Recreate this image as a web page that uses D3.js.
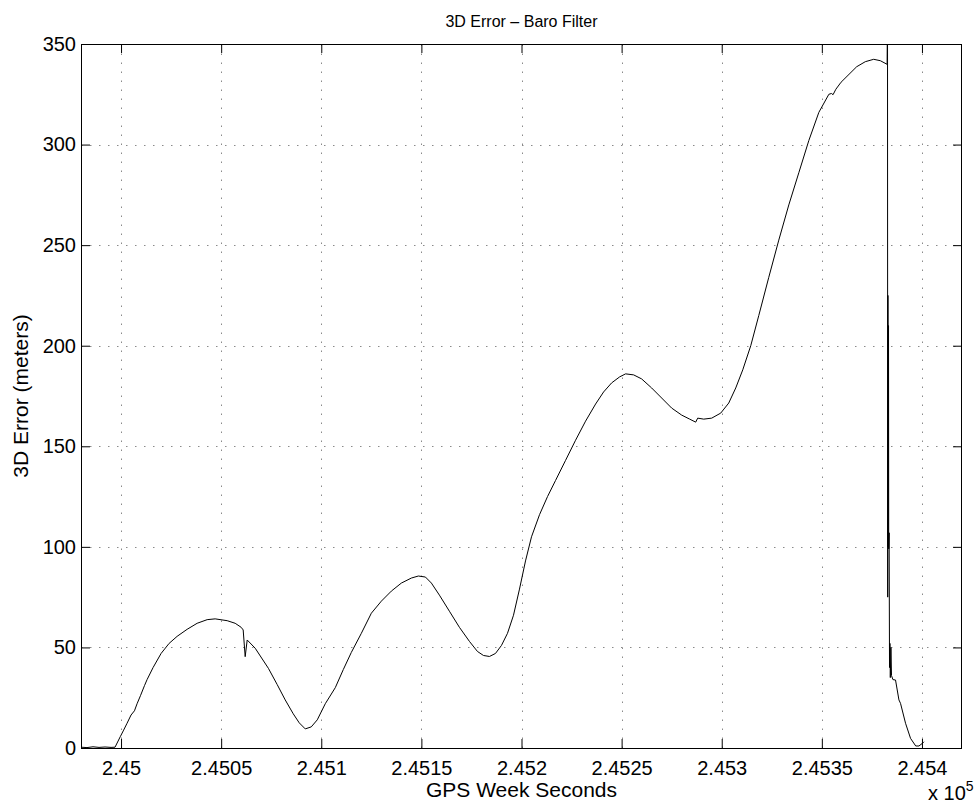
<!DOCTYPE html>
<html>
<head>
<meta charset="utf-8">
<script src="https://cdn.jsdelivr.net/npm/d3@7"></script>
<style>
  html, body { margin: 0; padding: 0; background: #fff; }
  svg { display: block; font-family: "Liberation Sans", Arial, Helvetica, sans-serif; }
</style>
</head>
<body>
<svg id="chart" width="976" height="808"></svg>
<script>
// GPS week seconds (time) and 3D position error in metres
const timeSec = [
  244980, 244983, 244986, 244989, 244992, 244995, 244997, 244999.6, 245001.3, 245003,
  245005, 245006.7, 245008, 245009.7, 245011.7, 245013, 245016, 245020, 245024, 245028,
  245033, 245038, 245043, 245047, 245053, 245057, 245060, 245061, 245062, 245063,
  245067, 245073.6, 245078, 245082, 245086, 245089, 245092, 245095, 245098, 245102,
  245107, 245111, 245115, 245120, 245125, 245130, 245135, 245140, 245145, 245148.5,
  245152, 245155, 245159, 245164, 245169, 245174, 245178, 245181, 245184, 245187,
  245190, 245193, 245196, 245199, 245202, 245205, 245209, 245213, 245217, 245222,
  245227, 245232, 245237, 245241, 245245, 245249, 245252, 245256, 245260, 245265,
  245270, 245275, 245280, 245284, 245287, 245288, 245291, 245295, 245299.5, 245303.5,
  245307, 245310.5, 245314.5, 245318.5, 245323.5, 245328.5, 245333.5, 245338.5, 245343.5, 245348.5,
  245353.5, 245354.8, 245355.6, 245357, 245359.6, 245367.4, 245371.7, 245375.9, 245379.2, 245382.6,
  245382.8, 245382.9, 245383.0, 245383.1, 245383.3, 245383.4, 245383.6, 245383.8, 245384.0, 245384.2,
  245384.5, 245384.8, 245385.5, 245386.8, 245388.5, 245389.3, 245391.8, 245394.3, 245396.9, 245398.5,
  245400.2, 245401
];
const errorM = [
  0.4, 0.2, 0.6, 0.3, 0.5, 0.3, 0.4, 5.6, 8.9, 12.3,
  16.4, 18.5, 22, 26, 31, 34, 40, 47, 52, 55.5,
  59, 62, 63.8, 64.2, 63.3, 62, 60, 58.7, 45.4, 53.7,
  49.6, 39.6, 31.5, 23.9, 17, 12.5, 9.5, 10.5, 14, 22,
  30, 39, 47.5, 57, 67, 73, 78, 82, 84.5, 85.5,
  85, 82, 76, 68, 60, 53, 48, 46, 45.5, 47,
  51, 57, 66, 79, 93, 105, 116, 125, 133, 143,
  153, 162.5, 171, 177, 181.5, 184.5, 186, 185.5, 183.5, 179,
  174, 169, 165.5, 163.5, 162, 164, 163.5, 164, 166.5, 171.5,
  179, 188, 200, 215, 234, 252.5, 270, 286, 302, 316,
  325, 325.4, 324.8, 327.5, 331, 338.7, 341.2, 342.4, 341.7, 339.9,
  370, 75, 225, 100, 210, 99, 107, 40, 52, 35,
  50, 36, 34, 33.8, 23.9, 22.2, 12.3, 4.8, 1, 1,
  2.3, 3.1
];

const xTicks = [245000, 245050, 245100, 245150, 245200, 245250, 245300, 245350, 245400];
const xTickLabels = ["2.45", "2.4505", "2.451", "2.4515", "2.452", "2.4525", "2.453", "2.4535", "2.454"];
const yTicks = [0, 50, 100, 150, 200, 250, 300, 350];

const titleText = "3D Error \u2013 Baro Filter";
const xLabelText = "GPS Week Seconds";
const yLabelText = "3D Error (meters)";

const svg = d3.select("#chart");
const W = 976, H = 808;
const m = { left: 81, right: 14, top: 44, bottom: 60 };
const x0 = m.left, x1 = W - m.right, y0 = m.top, y1 = H - m.bottom;

svg.append("rect").attr("width", W).attr("height", H).attr("fill", "#fff");

const x = d3.scaleLinear().domain([244980, 245420]).range([x0, x1]);
const y = d3.scaleLinear().domain([0, 350]).range([y1, y0]);

const tickFont = 20;
const labelFont = 21;
const titleFont = 16;
const tickLen = 9;

// dotted grid
const grid = svg.append("g").attr("stroke", "#8a8a8a").attr("stroke-width", 1)
  .attr("stroke-dasharray", "1.5,7.5").attr("fill", "none");
grid.selectAll("line.gx").data(xTicks).join("line")
  .attr("x1", d => Math.round(x(d)) + 0.5).attr("x2", d => Math.round(x(d)) + 0.5)
  .attr("y1", y1).attr("y2", y0);
grid.selectAll("line.gy").data(yTicks.filter(d => d > 0 && d < 350)).join("line")
  .attr("y1", d => Math.round(y(d)) + 0.5).attr("y2", d => Math.round(y(d)) + 0.5)
  .attr("x1", x0).attr("x2", x1);

// data line, clipped to the axes box
svg.append("clipPath").attr("id", "plotclip").append("rect")
  .attr("x", x0).attr("y", y0).attr("width", x1 - x0).attr("height", y1 - y0);
const pts = timeSec.map((t, i) => [t, errorM[i]]);
svg.append("path").datum(pts)
  .attr("clip-path", "url(#plotclip)")
  .attr("fill", "none").attr("stroke", "#000").attr("stroke-width", 1)
  .attr("stroke-linejoin", "round")
  .attr("d", d3.line().x(d => x(d[0])).y(d => y(d[1])));

// axes with inward ticks on all four sides
const axBottom = d3.axisBottom(x).tickValues(xTicks).tickSize(-tickLen).tickFormat((d, i) => xTickLabels[i]).tickPadding(13);
const axTop = d3.axisTop(x).tickValues(xTicks).tickSize(-tickLen).tickFormat("");
const axLeft = d3.axisLeft(y).tickValues(yTicks).tickSize(-tickLen).tickFormat(d3.format("d")).tickPadding(5);
const axRight = d3.axisRight(y).tickValues(yTicks).tickSize(-tickLen).tickFormat("");

function styleAxis(g) {
  g.select(".domain").remove();
  g.selectAll(".tick line").attr("stroke", "#000").attr("stroke-width", 1);
  g.selectAll("text").attr("fill", "#000").style("font-size", tickFont + "px")
    .style("font-family", "'Liberation Sans', Arial, Helvetica, sans-serif");
}
svg.append("g").attr("transform", `translate(0,${y1})`).call(axBottom).call(styleAxis);
svg.append("g").attr("transform", `translate(0,${y0})`).call(axTop).call(styleAxis);
svg.append("g").attr("transform", `translate(${x0},0)`).call(axLeft).call(styleAxis);
svg.append("g").attr("transform", `translate(${x1},0)`).call(axRight).call(styleAxis);

// box
svg.append("rect").attr("x", x0 + 0.5).attr("y", y0 + 0.5)
  .attr("width", x1 - x0 - 1).attr("height", y1 - y0)
  .attr("fill", "none").attr("stroke", "#000").attr("stroke-width", 1);

// title and labels
svg.append("text").attr("x", (x0 + x1) / 2).attr("y", 27).attr("text-anchor", "middle")
  .style("font-size", titleFont + "px").text(titleText);
svg.append("text").attr("x", (x0 + x1) / 2).attr("y", 797).attr("text-anchor", "middle")
  .style("font-size", labelFont + "px").text(xLabelText);
svg.append("text").attr("transform", `translate(28,${(y0 + y1) / 2}) rotate(-90)`)
  .attr("text-anchor", "middle").style("font-size", labelFont + "px").text(yLabelText);

// exponent label for the x axis
const expo = svg.append("text").attr("x", 928).attr("y", 800).style("font-size", tickFont + "px");
expo.append("tspan").text("x 10");
expo.append("tspan").attr("dy", -9).style("font-size", "14px").text("5");
</script>
</body>
</html>
